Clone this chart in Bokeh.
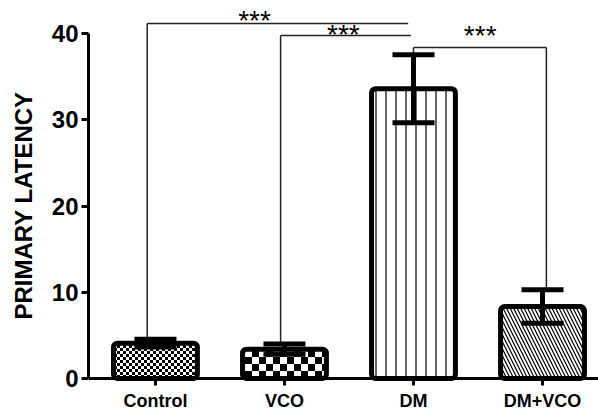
import base64, struct, zlib
from bokeh.plotting import figure
from bokeh.models import (ColumnDataSource, Range1d, FixedTicker, Whisker, TeeHead,
                          ImageURLTexture, Span)
from bokeh.core.properties import value
from bokeh.embed import file_html
from bokeh.resources import INLINE

# ---------------- data ----------------
categories = ["Control", "VCO", "DM", "DM+VCO"]
means = [4.1, 3.4, 33.6, 8.35]
sem = [0.45, 0.6, 3.95, 1.95]
patterns = ["chk_small", "chk_large", "vertical_line", "left_diagonal_line"]
y_ticks = [0, 10, 20, 30, 40]
y_label = "PRIMARY LATENCY"

# significance brackets: (from group, to group, label)
sig_pairs = [(0, 2, "***"), (1, 2, "***"), (2, 3, "***")]

# ---------------- helpers ----------------
def checker_png(cell):
    n = cell * 2
    rows = b""
    for yy in range(n):
        row = bytes([0])
        for xx in range(n):
            black = ((xx // cell) + (yy // cell)) % 2 == 0
            row += bytes([0 if black else 255])
        rows += row
    def chunk(t, d):
        c = struct.pack(">I", len(d)) + t + d
        return c + struct.pack(">I", zlib.crc32(t + d) & 0xffffffff)
    png = b"\x89PNG\r\n\x1a\n"
    png += chunk(b"IHDR", struct.pack(">IIBBBBB", n, n, 8, 0, 0, 0, 0))
    png += chunk(b"IDAT", zlib.compress(rows))
    png += chunk(b"IEND", b"")
    return "data:image/png;base64," + base64.b64encode(png).decode()

xs = list(range(len(categories)))
upper = [m + s for m, s in zip(means, sem)]
lower = [m - s for m, s in zip(means, sem)]

PX = 8.625  # pixels per data unit on y
p = figure(width=598, height=410, output_backend="svg", toolbar_location=None,
           x_range=Range1d(-0.519, 3.434), y_range=Range1d(-32 / PX, 378 / PX),
           x_axis_location=None,
           min_border_left=88, min_border_right=0, min_border_top=0, min_border_bottom=0)
p.outline_line_color = None
p.xgrid.visible = False
p.ygrid.visible = False
p.background_fill_color = "white"

src = ColumnDataSource(dict(x=xs, top=means, up=upper, lo=lower, pat=patterns,
                            hs=[1, 1, 10, 7], cat=categories))

p.vbar(x="x", top="top", bottom=0, width=0.65, source=src,
       fill_color="white", line_color="black", line_width=5,
       hatch_pattern="pat", hatch_color="black", hatch_scale="hs", hatch_weight=1.2,
       hatch_extra={"chk_small": ImageURLTexture(url=checker_png(3), repetition="repeat"),
                    "chk_large": ImageURLTexture(url=checker_png(7), repetition="repeat")},
       border_radius=4)

wh = Whisker(base="x", upper="up", lower="lo", source=src, line_width=5, line_color="black",
             upper_head=TeeHead(size=42, line_width=5, line_color="black"),
             lower_head=TeeHead(size=42, line_width=5, line_color="black"),
             level="overlay")
p.add_layout(wh)

# x axis line, ticks and category labels at y = 0
p.add_layout(Span(location=0, dimension="width", line_color="black", line_width=3))
p.segment(x0=xs, x1=xs, y0=[0] * len(xs), y1=[-7 / PX] * len(xs),
          line_color="black", line_width=3)
p.text(x=xs, y=[-22 / PX] * len(xs), text=categories, text_align="center",
       text_baseline="alphabetic", text_font=value("Liberation Sans"),
       text_font_style="bold", text_font_size="18px", text_color="black")

# significance brackets
levels = [41.16, 39.77, 38.38]
offs = [(-0.064, -0.041), (-0.03, -0.02), (0.0, 0.03)]
star_y = [41.54, 39.88, 39.75]
star_x_frac = [0.411, 0.482, 0.502]
for (a, b, lab), lv, (oa, ob), sy, fr in zip(sig_pairs, levels, offs, star_y, star_x_frac):
    xa, xb = a + oa, b + ob
    p.line([xa, xb], [lv, lv], line_color="#222222", line_width=1.5)
    p.line([xa, xa], [lv, upper[a]], line_color="#222222", line_width=1.5)
    if b == 3:
        p.line([xb, xb], [lv, upper[b]], line_color="#222222", line_width=1.5)
    p.text(x=[xa + (xb - xa) * fr], y=[sy], text=[lab], text_align="center",
           text_baseline="alphabetic", text_font=value("Liberation Sans"),
           text_font_size="28px", text_color="black")

# y axis
ax = p.yaxis[0]
ax.ticker = FixedTicker(ticks=y_ticks)
ax.bounds = (0, 40)
ax.axis_line_width = 3
ax.axis_line_color = "black"
ax.major_tick_line_width = 3
ax.major_tick_line_color = "black"
ax.major_tick_out = 7
ax.major_tick_in = 0
ax.minor_tick_line_color = None
ax.major_label_text_font = "Liberation Sans"
ax.major_label_text_font_style = "bold"
ax.major_label_text_color = "black"
ax.major_label_text_font_size = "24px"
ax.major_label_standoff = 3
ax.axis_label = y_label
ax.axis_label_text_font = "Liberation Sans"
ax.axis_label_text_font_style = "bold"
ax.axis_label_text_font_size = "24px"
ax.axis_label_text_color = "black"
ax.axis_label_standoff = 12

open("out.html", "w").write(file_html(p, INLINE))
